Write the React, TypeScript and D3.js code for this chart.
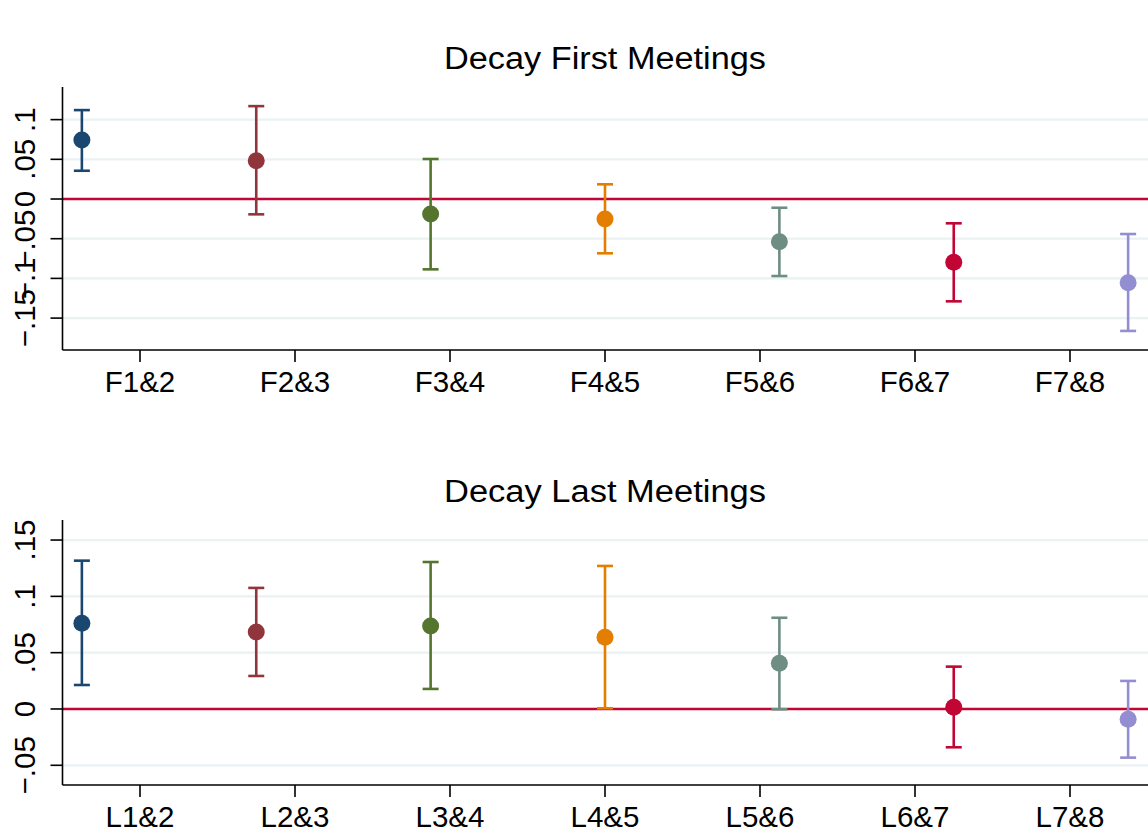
import React from "react";
import * as d3 from "d3";

// ---------- data ----------
const topCategories = ["F1&2", "F2&3", "F3&4", "F4&5", "F5&6", "F6&7", "F7&8"];
const bottomCategories = ["L1&2", "L2&3", "L3&4", "L4&5", "L5&6", "L6&7", "L7&8"];
const tickPositions = [1, 2, 3, 4, 5, 6, 7];
const pointPositions = [0.625, 1.75, 2.875, 4.0, 5.125, 6.25, 7.375];

const topEstimate = [0.0743, 0.0482, -0.0189, -0.0252, -0.0538, -0.0797, -0.1054];
const topLower = [0.0356, -0.0193, -0.0886, -0.0684, -0.097, -0.1289, -0.1662];
const topUpper = [0.112, 0.117, 0.0504, 0.0185, -0.011, -0.0306, -0.0441];

const bottomEstimate = [0.0761, 0.0684, 0.0737, 0.0637, 0.0406, 0.0015, -0.0092];
const bottomLower = [0.0213, 0.0293, 0.0178, 0.0006, -0.0003, -0.034, -0.0432];
const bottomUpper = [0.1317, 0.1075, 0.1305, 0.127, 0.081, 0.0376, 0.0249];

const seriesColors = ["#1a476f", "#90353b", "#55752f", "#e37e00", "#6e8e84", "#c10534", "#938dd2"];

const topYTicks = [-0.15, -0.1, -0.05, 0, 0.05, 0.1];
const topYLabels = ["\u2212.15", "\u2212.1", "\u2212.05", "0", ".05", ".1"];
const bottomYTicks = [-0.05, 0, 0.05, 0.1, 0.15];
const bottomYLabels = ["\u2212.05", "0", ".05", ".1", ".15"];

const topTitle = "Decay First Meetings";
const bottomTitle = "Decay Last Meetings";

// ---------- layout ----------
const W = 1148;
const H = 833;
const FONT = "'Liberation Sans', Arial, Helvetica, sans-serif";
const xScale = d3.scaleLinear().domain([0.5, 7.5]).range([62.5, 1147.5]);

type PanelProps = {
  title: string;
  titleY: number;
  categories: string[];
  est: number[];
  lo: number[];
  hi: number[];
  yTicks: number[];
  yLabels: string[];
  yDomain: [number, number];
  yRange: [number, number];
};

function Panel(p: PanelProps) {
  const y = d3.scaleLinear().domain(p.yDomain).range(p.yRange);
  const bottom = p.yRange[0];
  const top = p.yRange[1];
  const left = xScale.range()[0];
  const right = W;
  const cap = 8;
  return (
    <g>
      <text x={605} y={p.titleY} textAnchor="middle" fontSize={31} fontFamily={FONT} fill="#000" textLength={322} lengthAdjust="spacingAndGlyphs">
        {p.title}
      </text>
      {p.yTicks.filter((t) => t !== 0).map((t) => (
        <line key={"g" + t} x1={left} x2={right} y1={y(t)} y2={y(t)} stroke="#eaf2f3" strokeWidth={2.2} />
      ))}
      <line x1={left} x2={right} y1={y(0)} y2={y(0)} stroke="#c10534" strokeWidth={2.6} />
      <line x1={left} x2={left} y1={top} y2={bottom} stroke="#000" strokeWidth={1.6} />
      <line x1={left} x2={right} y1={bottom} y2={bottom} stroke="#000" strokeWidth={1.6} />
      {p.yTicks.map((t, i) => (
        <g key={"yt" + t}>
          <line x1={left - 12} x2={left} y1={y(t)} y2={y(t)} stroke="#000" strokeWidth={1.6} />
          <text transform={`translate(35,${y(t)}) rotate(-90)`} textAnchor="middle" fontSize={29.5} fontFamily={FONT} fill="#000">
            {p.yLabels[i]}
          </text>
        </g>
      ))}
      {tickPositions.map((t, i) => (
        <g key={"xt" + t}>
          <line x1={xScale(t)} x2={xScale(t)} y1={bottom} y2={bottom + 12} stroke="#000" strokeWidth={1.6} />
          <text x={xScale(t)} y={bottom + 42} textAnchor="middle" fontSize={29.5} fontFamily={FONT} fill="#000">
            {p.categories[i]}
          </text>
        </g>
      ))}
      {pointPositions.map((px, i) => {
        const cx = xScale(px);
        const c = seriesColors[i];
        return (
          <g key={"pt" + i}>
            <line x1={cx} x2={cx} y1={y(p.lo[i])} y2={y(p.hi[i])} stroke={c} strokeWidth={2.6} />
            <line x1={cx - cap} x2={cx + cap} y1={y(p.lo[i])} y2={y(p.lo[i])} stroke={c} strokeWidth={2.6} />
            <line x1={cx - cap} x2={cx + cap} y1={y(p.hi[i])} y2={y(p.hi[i])} stroke={c} strokeWidth={2.6} />
            <circle cx={cx} cy={y(p.est[i])} r={8.5} fill={c} />
          </g>
        );
      })}
    </g>
  );
}

export default function App() {
  return (
    <svg width={W} height={H} style={{ position: "absolute", left: 0, top: 0, background: "#fff" }}>
      <rect width={W} height={H} fill="#fff" />
      <Panel
        title={topTitle}
        titleY={69}
        categories={topCategories}
        est={topEstimate}
        lo={topLower}
        hi={topUpper}
        yTicks={topYTicks}
        yLabels={topYLabels}
        yDomain={[-0.1902, 0.1411]}
        yRange={[350, 87]}
      />
      <Panel
        title={bottomTitle}
        titleY={502}
        categories={bottomCategories}
        est={bottomEstimate}
        lo={bottomLower}
        hi={bottomUpper}
        yTicks={bottomYTicks}
        yLabels={bottomYLabels}
        yDomain={[-0.0675, 0.1678]}
        yRange={[785, 520]}
      />
    </svg>
  );
}
